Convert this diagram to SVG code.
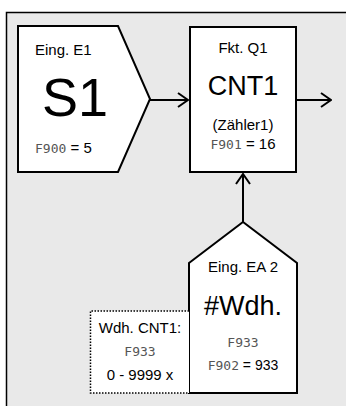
<svg xmlns="http://www.w3.org/2000/svg" width="346" height="406" viewBox="0 0 346 406">
<style>
.shape{fill:#fff;stroke:#000;stroke-width:2;stroke-linejoin:miter}
.t{font-family:"Liberation Sans",Arial,sans-serif;fill:#000}
.seg{font-family:"DejaVu Sans Mono","Liberation Mono",monospace;fill:#555;font-size:13px}
.conn{fill:none;stroke:#000;stroke-width:2}
</style>
<defs>
<marker id="ah" viewBox="0 0 12 16" refX="11" refY="8" markerWidth="12" markerHeight="16" markerUnits="userSpaceOnUse" orient="auto">
<path d="M1,1 L11,8 L1,15" fill="none" stroke="#000" stroke-width="2"/>
</marker>
</defs>
<rect x="0" y="0" width="346" height="406" fill="#fff"/>
<rect x="6.5" y="12.5" width="400" height="400" fill="#e9e9e9" stroke="#000" stroke-width="1.5"/>
<g id="E1">
<path class="shape" d="M18,26 H118 L150,99 L118,172 H18 Z"/>
<text class="t" x="35" y="55" font-size="15">Eing. E1</text>
<text class="t" x="75" y="116" font-size="54" text-anchor="middle">S1</text>
<text x="35" y="153"><tspan class="seg">F900</tspan><tspan class="t" font-size="15"> = 5</tspan></text>
</g>
<g id="Q1">
<rect class="shape" x="190" y="27" width="106" height="145"/>
<text class="t" x="243" y="53" font-size="15" text-anchor="middle">Fkt. Q1</text>
<text class="t" x="243" y="95" font-size="27" text-anchor="middle">CNT1</text>
<text class="t" x="243" y="130" font-size="15" text-anchor="middle">(Zähler1)</text>
<text x="243" y="149" text-anchor="middle"><tspan class="seg">F901</tspan><tspan class="t" font-size="15"> = 16</tspan></text>
</g>
<g id="EA2">
<path class="shape" d="M189,263 L243,222 L297,263 V393 H189 Z"/>
<text class="t" x="243" y="272" font-size="15" text-anchor="middle">Eing. EA 2</text>
<text class="t" x="243" y="315" font-size="27" text-anchor="middle">#Wdh.</text>
<text class="seg" x="243" y="347" text-anchor="middle">F933</text>
<text x="243" y="370" text-anchor="middle"><tspan class="seg">F902</tspan><tspan class="t" font-size="14"> = 933</tspan></text>
</g>
<g id="Wdh">
<path d="M189,311 H90.5 V393 H189" fill="#fff" stroke="#000" stroke-width="1.5" stroke-dasharray="1.5,1.5"/>
<text class="t" x="140" y="333" font-size="15" text-anchor="middle">Wdh. CNT1:</text>
<text class="seg" x="140" y="356" text-anchor="middle">F933</text>
<text class="t" x="140" y="380" font-size="15" text-anchor="middle">0 - 9999 x</text>
</g>
<g id="connectors">
<line class="conn" x1="150" y1="100" x2="188" y2="100" marker-end="url(#ah)"/>
<line class="conn" x1="297" y1="100" x2="331" y2="100" marker-end="url(#ah)"/>
<line class="conn" x1="243" y1="222" x2="243" y2="174" marker-end="url(#ah)"/>
</g>
</svg>
